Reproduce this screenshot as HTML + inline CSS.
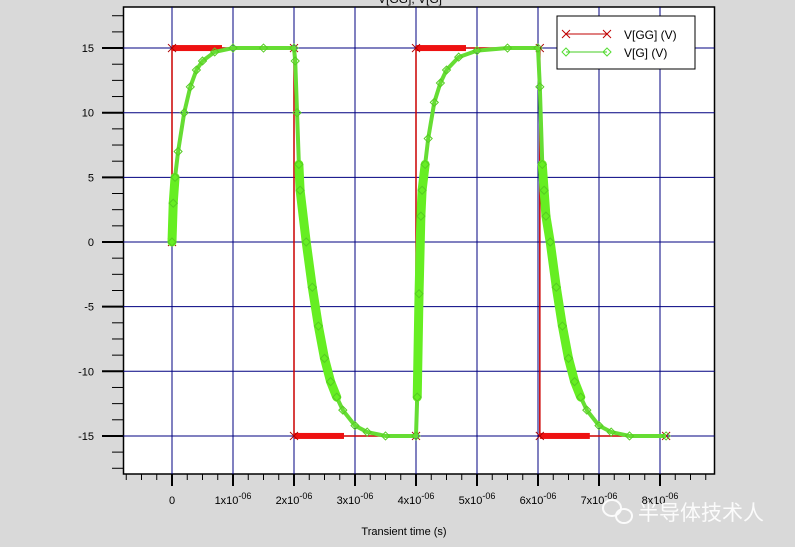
<!DOCTYPE html>
<html><head><meta charset="utf-8"><style>
body{margin:0;background:#d9d9d9;}
svg{display:block;font-family:"Liberation Sans","Noto Sans CJK SC",sans-serif;}
</style></head><body>
<svg id="chart" width="795" height="547" viewBox="0 0 795 547" xmlns="http://www.w3.org/2000/svg">
<rect width="795" height="547" fill="#d9d9d9"/>
<text x="410" y="3" font-size="12" text-anchor="middle">V[GG], V[G]</text>
<rect x="123.5" y="7" width="591" height="467" fill="#fff" stroke="#000" stroke-width="1.5"/>
<g id="grid"></g>
<g id="axes"></g>
<g id="series" clip-path="url(#clip)"></g>
<defs><clipPath id="clip"><rect x="123.5" y="7" width="591" height="467"/></clipPath></defs>
<g>
<rect x="557" y="16" width="138" height="53" fill="#fff" stroke="#000" stroke-width="1"/>
<g>
<line x1="566" y1="34" x2="607" y2="34" stroke="#c00000" stroke-width="1"/>
<path d="M562,30l8,8M570,30l-8,8M603,30l8,8M611,30l-8,8" stroke="#c00000" stroke-width="1"/>
<text x="624" y="39" font-size="12">V[GG] (V)</text>
</g>
<g>
<line x1="566" y1="52" x2="607" y2="52" stroke="#44cc22" stroke-width="1"/>
<path d="M566,48l4,4l-4,4l-4,-4zM607,48l4,4l-4,4l-4,-4z" fill="none" stroke="#55dd33" stroke-width="1"/>
<text x="624" y="57" font-size="12">V[G] (V)</text>
</g>
</g>
<text x="404" y="535" font-size="11" text-anchor="middle">Transient time (s)</text>
<g opacity="0.9">
<ellipse cx="612" cy="508" rx="9" ry="8" fill="none" stroke="#fff" stroke-width="2"/>
<ellipse cx="624" cy="516" rx="8" ry="7" fill="none" stroke="#fff" stroke-width="2"/>
<text x="638" y="520" font-size="21" fill="#fff">半导体技术人</text>
</g>
</svg>
<script>
const xTicks=[0,1,2,3,4,5,6,7,8];
const yTicks=[-15,-10,-5,0,5,10,15];
const vggT=[0,0,2,2,4,4,6.03,6.03,8.1];
const vggV=[0,15,15,-15,-15,15,15,-15,-15];
const vgT=[0,0.02,0.05,0.1,0.2,0.3,0.4,0.5,0.7,1.0,1.5,2.0,2.02,2.05,2.08,2.1,2.2,2.3,2.4,2.5,2.6,2.7,2.8,3.0,3.2,3.5,4.0,4.02,4.05,4.08,4.1,4.15,4.2,4.3,4.4,4.5,4.7,5.0,5.5,6.0,6.03,6.07,6.1,6.13,6.2,6.3,6.4,6.5,6.6,6.7,6.8,7.0,7.2,7.5,8.1];
const vgV=[0,3,5,7,10,12,13.3,14,14.7,15,15,15,14,10,6,4,0,-3.5,-6.5,-9,-10.8,-12,-13,-14.2,-14.7,-15,-15,-12,-4,2,4,6,8,10.8,12.3,13.3,14.3,14.8,15,15,12,6,4,2,0,-3.5,-6.5,-9,-10.8,-12,-13,-14.2,-14.7,-15,-15];
const X=t=>172+t*61;
const Y=v=>242-v*12.93;
const NS="http://www.w3.org/2000/svg";
function mk(tag,attrs,parent){const e=document.createElementNS(NS,tag);for(const k in attrs)e.setAttribute(k,attrs[k]);parent.appendChild(e);return e;}
const grid=document.getElementById('grid'),axes=document.getElementById('axes'),ser=document.getElementById('series');
xTicks.forEach(t=>{
 const l=mk('line',{x1:X(t),x2:X(t),y1:7,y2:474,stroke:'#000080','stroke-width':1},grid);
 
 
 const tk=mk('line',{x1:X(t),x2:X(t),y1:474,y2:486,stroke:'#000','stroke-width':2},axes);
 
 
 const tx=mk('text',{x:X(t),y:504,'font-size':11,'text-anchor':'middle'},axes);
 
 
 if(t===0){tx.textContent='0';}else{tx.textContent=t+'x10';const s=mk('tspan',{dy:-5,'font-size':9},tx);s.textContent='-06';}
});
for(let i=-3;i<=35;i++){const t=i*0.25;if(i%4===0)continue;const x=X(t);if(x<124||x>714)continue;
 const m=mk('line',{x1:x,x2:x,y1:474,y2:480,stroke:'#000','stroke-width':1},axes);
 
 }
yTicks.forEach(v=>{
 const l=mk('line',{x1:123.5,x2:714.5,y1:Y(v),y2:Y(v),stroke:'#000080','stroke-width':1},grid);
 
 
 const tk=mk('line',{x1:102,x2:123,y1:Y(v),y2:Y(v),stroke:'#000','stroke-width':2},axes);
 
 
 const tx=mk('text',{x:94,y:Y(v)+4,'font-size':11,'text-anchor':'end'},axes);
 
 
 tx.textContent=String(v);
});
for(let i=-14;i<=14;i++){if(i%4===0)continue;const v=i*1.25;
 const m=mk('line',{x1:112,x2:123,y1:Y(v),y2:Y(v),stroke:'#000','stroke-width':1},axes);
 
 }
// VGG
const p1=mk('polyline',{points:vggT.map((t,i)=>X(t)+','+Y(vggV[i])).join(' '),fill:'none',stroke:'#cc0000','stroke-width':1.5},ser);


for(let i=0;i<vggT.length-1;i++){
 const x=X(vggT[i]),y=Y(vggV[i]);
 if(vggV[i]===vggV[i+1]&&vggV[i]!==0){const r=mk('rect',{x:x,y:y-3,width:Math.min(50,X(vggT[i+1])-x),height:6,fill:'#ee1111'},ser);
  
  }
}
vggT.forEach((t,i)=>{const x=X(t),y=Y(vggV[i]);
 const m=mk('path',{d:`M${x-4},${y-4}l8,8M${x+4},${y-4}l-8,8`,stroke:'#aa0000','stroke-width':1},ser);
 
 });
// VG
const p2=mk('polyline',{points:vgT.map((t,i)=>X(t)+','+Y(vgV[i])).join(' '),fill:'none',stroke:'#66dd33','stroke-width':4,'stroke-linejoin':'round'},ser);


// thick dense-marker regions
for(let i=0;i<vgT.length-1;i++){
 const a=vgV[i],b=vgV[i+1];
 if(a!==b&&Math.max(a,b)<=6.5&&Math.min(a,b)>=-12.5){
  const s=mk('line',{x1:X(vgT[i]),y1:Y(a),x2:X(vgT[i+1]),y2:Y(b),stroke:'#66ee22','stroke-width':9,'stroke-linecap':'round'},ser);
  
  
 }
}
vgT.forEach((t,i)=>{const x=X(t),y=Y(vgV[i]);
 const m=mk('path',{d:`M${x},${y-4}l4,4l-4,4l-4,-4z`,fill:'none',stroke:'#55cc22','stroke-width':1},ser);
 
 });
</script>
</body></html>
